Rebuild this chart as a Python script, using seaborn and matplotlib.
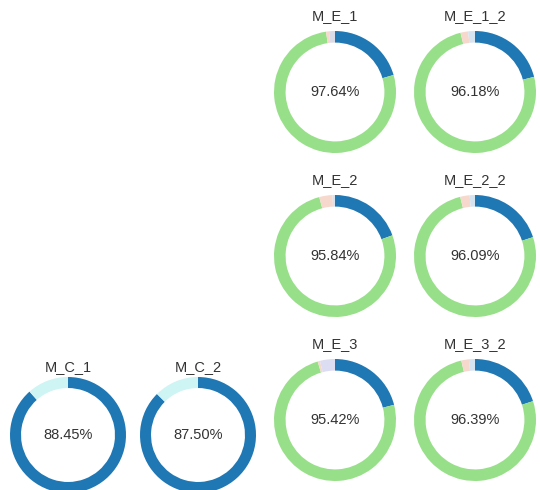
import matplotlib
matplotlib.use("Agg")
import matplotlib.pyplot as plt
import seaborn as sns

# DATA
c_names = ["M_C_1", "M_C_2"]
c_main = [88.45, 87.50]           # blue share, the rest is light cyan
c_labels = ["88.45%", "87.50%"]

e_names = ["M_E_1", "M_E_1_2", "M_E_2", "M_E_2_2", "M_E_3", "M_E_3_2"]
e_blue = [20.5, 21.0, 19.5, 20.0, 21.0, 20.0]
e_green = [77.14, 75.18, 76.34, 76.09, 74.42, 76.39]
e_peach = [0.8, 2.0, 3.5, 2.5, 0.6, 2.0]
e_light = [1.56, 1.82, 0.66, 1.41, 3.98, 1.61]
e_labels = ["97.64%", "96.18%", "95.84%", "96.09%", "95.42%", "96.39%"]

sns.set_theme(style="white")
plt.rcParams["font.family"] = ["Liberation Sans", "DejaVu Sans"]

blue = "#1f77b4"
green = "#98df8a"
peach = "#f6d8cc"
light_e = ["#dadbe8", "#d6e4f2", "#d6e4f2", "#d6e4f2", "#dcdcf2", "#d6e4f2"]
cyan = "#cff4f4"

W, H = 540, 490
fig = plt.figure(figsize=(W / 100, H / 100), dpi=100)


def donut(cx, cy, r, values, colors, title, label, pad):
    # cx, cy, r in pixels (y from top)
    ax = fig.add_axes([(cx - r) / W, 1 - (cy + r) / H, 2 * r / W, 2 * r / H])
    ax.pie(values, colors=colors, startangle=90, counterclock=False,
           wedgeprops=dict(width=0.19, edgecolor="none"))
    ax.set_xlim(-1, 1)
    ax.set_ylim(-1, 1)
    ax.set_aspect("equal")
    ax.text(0, 0, label, ha="center", va="center", fontsize=10.5, color="#333333")
    ax.set_title(title, fontsize=10.5, pad=pad, color="#333333")
    ax.axis("off")


# M_C donuts bottom left
c_pos = [(68, 435), (198, 435)]
for i, name in enumerate(c_names):
    donut(c_pos[i][0], c_pos[i][1], 58, [c_main[i], 100 - c_main[i]],
          [blue, cyan], name, c_labels[i], 4)

# M_E donuts, 3 rows x 2 cols on the right
e_cols = [335, 475]
e_rows = [92, 256, 420]
for i, name in enumerate(e_names):
    cx = e_cols[i % 2]
    cy = e_rows[i // 2]
    vals = [e_blue[i], e_green[i], e_peach[i], e_light[i]]
    donut(cx, cy, 61, vals, [blue, green, peach, light_e[i]], name, e_labels[i], 8)

plt.savefig("out.png", dpi=100)
